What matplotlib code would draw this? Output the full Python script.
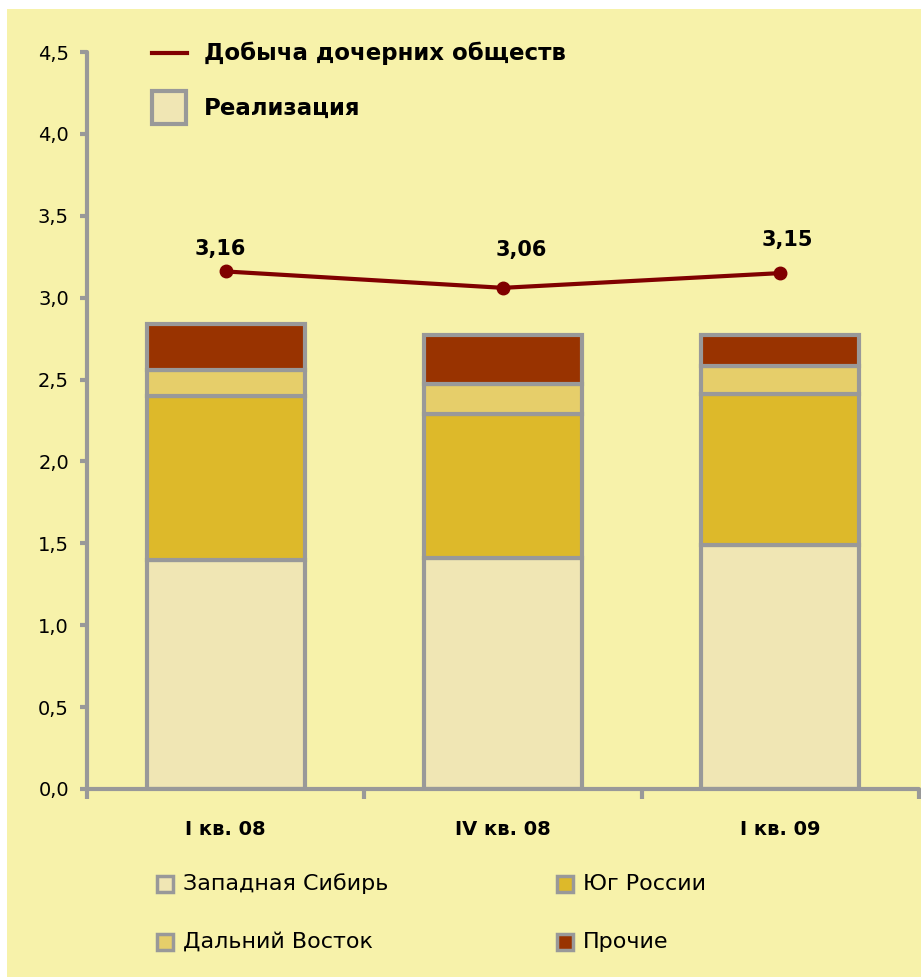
import matplotlib.pyplot as plt
import numpy as np
from matplotlib.patches import Rectangle
from matplotlib.lines import Line2D

plt.rcParams['font.family'] = ['DejaVu Sans']

categories = ['I кв. 08', 'IV кв. 08', 'I кв. 09']
west_siberia = [1.40, 1.41, 1.49]
south_russia = [1.00, 0.88, 0.92]
far_east = [0.16, 0.18, 0.17]
other = [0.28, 0.30, 0.19]
production = [3.16, 3.06, 3.15]
yticks = [0.0, 0.5, 1.0, 1.5, 2.0, 2.5, 3.0, 3.5, 4.0, 4.5]

series_names = ['Западная Сибирь', 'Юг России', 'Дальний Восток', 'Прочие']
series_colors = ['#F0E6B4', '#DDB92A', '#E6CE6A', '#993300']

bg = '#F7F2AA'
grey = '#999999'
red = '#800000'

fig = plt.figure(figsize=(9.21, 9.77), dpi=100, facecolor='white')
# yellow panel (white strip on left and top)
fig.add_artist(Rectangle((7 / 921, 0), 1, 1 - 9 / 977, transform=fig.transFigure,
                         facecolor=bg, edgecolor='none', zorder=0))

ax = fig.add_axes([87 / 921, 1 - 789 / 977, (919 - 87) / 921, (789 - 52) / 977])
ax.set_facecolor('none')

x = np.arange(len(categories))
bottom = np.zeros(len(categories))
for vals, col in zip([west_siberia, south_russia, far_east, other], series_colors):
    ax.bar(x, vals, 0.57, bottom=bottom, color=col, edgecolor=grey, linewidth=3,
           zorder=2)
    bottom += np.array(vals)

ax.plot(x, production, color=red, linewidth=3, marker='o', markersize=9, zorder=3)
label_offsets = [(-4, 16), (13, 27), (5, 24)]
for xi, v, off in zip(x, production, label_offsets):
    ax.annotate(f'{v:.2f}'.replace('.', ','), (xi, v), xytext=off,
                textcoords='offset points', ha='center', va='center',
                fontsize=15, fontweight='bold', color='black')

ax.set_xlim(-0.5, 2.5)
ax.set_ylim(0, 4.5)
ax.set_yticks(yticks)
ax.set_yticklabels([f'{t:.1f}'.replace('.', ',') for t in yticks], fontsize=14)
ax.set_xticks(x)
ax.set_xticklabels(categories, fontsize=14, fontweight='bold')
ax.tick_params(axis='x', length=0, pad=22)
ax.set_xticks([-0.5, 0.5, 1.5, 2.5], minor=True)
ax.tick_params(axis='x', which='minor', length=7, width=3, color=grey, direction='out')
ax.tick_params(axis='y', length=5, width=3, color=grey, direction='out', pad=8)

for s in ['top', 'right']:
    ax.spines[s].set_visible(False)
for s in ['left', 'bottom']:
    ax.spines[s].set_color(grey)
    ax.spines[s].set_linewidth(3)
    ax.spines[s].set_capstyle('round')

# top legend
fig.add_artist(Line2D([152 / 921, 187 / 921], [1 - 53 / 977] * 2, color=red,
                      linewidth=3, transform=fig.transFigure))
fig.text(204 / 921, 1 - 53 / 977, 'Добыча дочерних обществ', fontsize=16.5,
         fontweight='bold', va='center', ha='left')
fig.add_artist(Rectangle((152 / 921, 1 - 124 / 977), 34 / 921, 33 / 977,
                         transform=fig.transFigure, facecolor=series_colors[0],
                         edgecolor=grey, linewidth=3))
fig.text(204 / 921, 1 - 108 / 977, 'Реализация', fontsize=16.5,
         fontweight='bold', va='center', ha='left')

# bottom legend
pos = [(157, 884), (557, 884), (157, 942), (557, 942)]
for (px, py), name, col in zip(pos, series_names, series_colors):
    fig.add_artist(Rectangle((px / 921, 1 - (py + 8) / 977), 16 / 921, 16 / 977,
                             transform=fig.transFigure, facecolor=col,
                             edgecolor=grey, linewidth=2.5))
    fig.text((px + 26) / 921, 1 - py / 977, name, fontsize=16,
             va='center', ha='left')

fig.savefig('out.png', dpi=100, facecolor=fig.get_facecolor())
